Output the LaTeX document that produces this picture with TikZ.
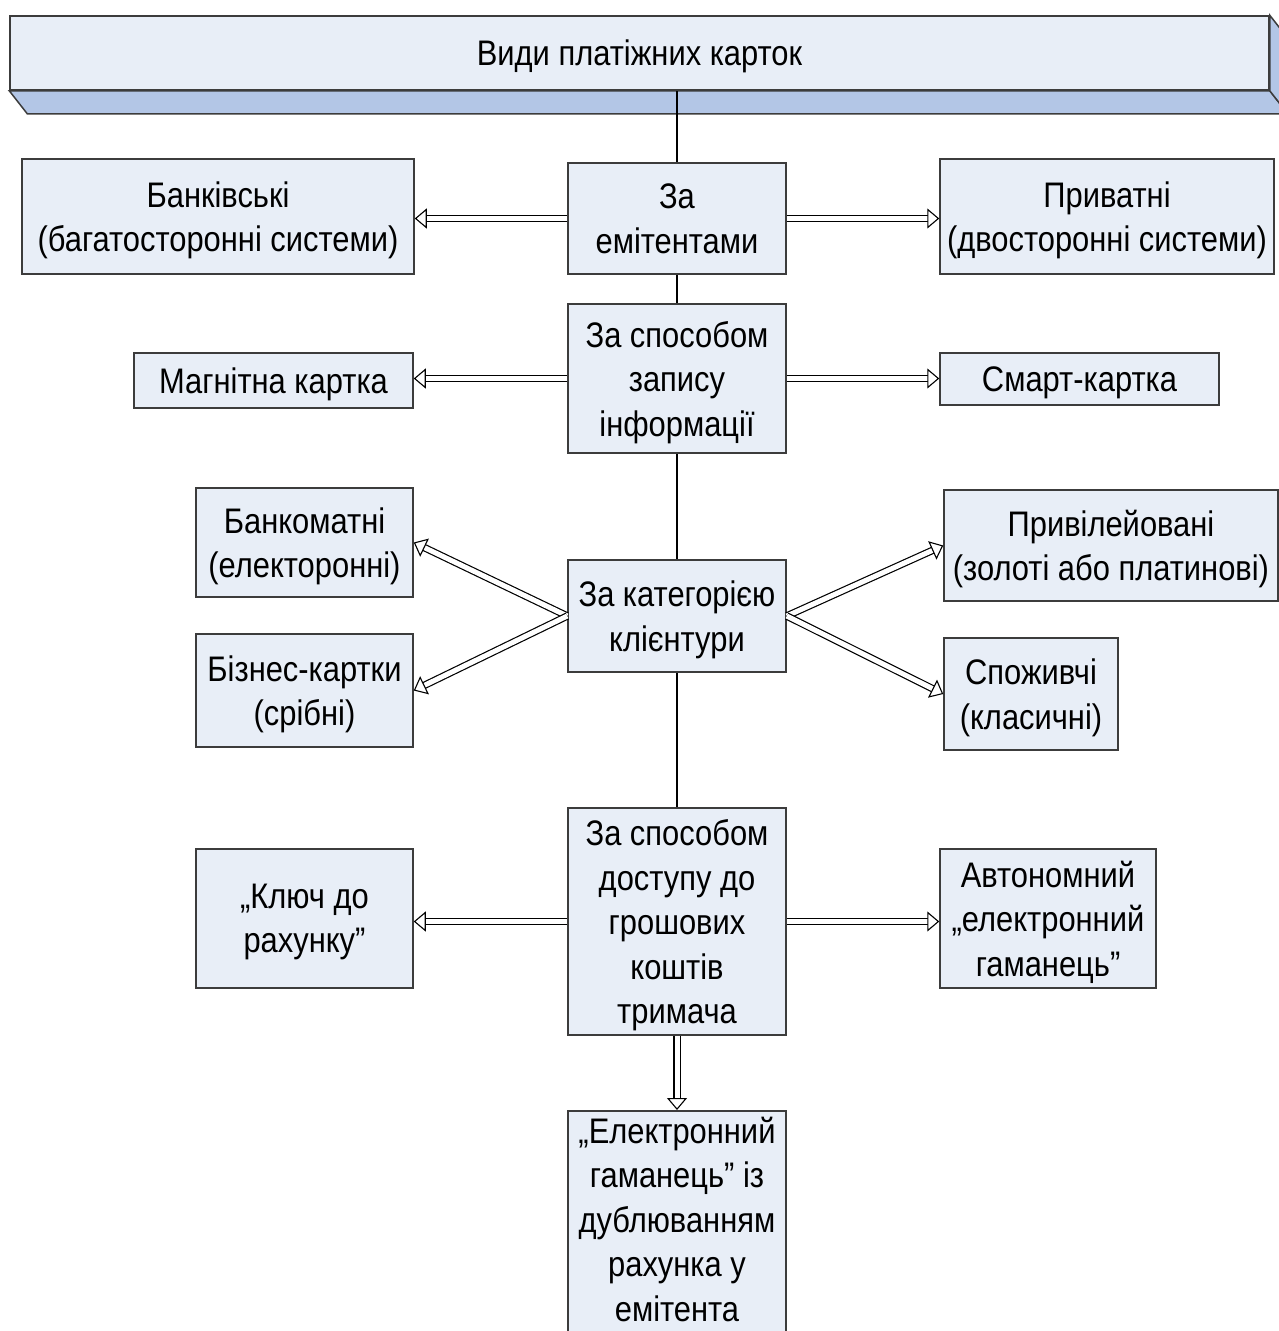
\documentclass[tikz,border=0pt]{standalone}
\usepackage{fontspec}
\setmainfont{Liberation Sans}[FakeStretch=0.87]
\usetikzlibrary{arrows.meta,backgrounds}
\definecolor{boxfill}{HTML}{E8EEF7}
\definecolor{bevelfill}{HTML}{B3C6E6}
\definecolor{edge}{HTML}{3C3C3C}
\tikzset{
  txt/.style={inner sep=0pt, align=center, font=\fontsize{35.5pt}{44.5pt}\selectfont, text depth=0pt},
  cbox/.style={txt, draw=edge, line width=1.5pt, fill=boxfill},
  dbl/.style={draw=black, line width=1.2pt, double=white, double distance=5pt,
    -{Triangle[open, fill=white, length=12pt, width=20pt, line width=1.1pt]}},
  plain/.style={draw=black, line width=1.4pt},
}
\begin{document}
\begin{tikzpicture}[x=1pt,y=-1pt]
\useasboundingbox (0,0) rectangle (1279,1331);
\clip (0,0) rectangle (1279,1331);
% top 3D box
\node[cbox, minimum width=1259pt, minimum height=74pt] (top) at (639.5,53) {Види платіжних карток};
% row 1
\node[cbox, minimum width=218pt, minimum height=111pt] (c1) at (677,218.5) {За\\емітентами};
\node[cbox, minimum width=392pt, minimum height=115pt] (b1) at (218,216.5) {Банківські\\(багатосторонні системи)};
\node[cbox, minimum width=334pt, minimum height=115pt] (p1) at (1107,216.5) {Приватні\\(двосторонні системи)};
% row 2
\node[cbox, minimum width=218pt, minimum height=149pt] (c2) at (677,378.5) {За способом\\запису\\інформації};
\node[cbox, minimum width=279pt, minimum height=55pt] (m) at (273.5,380.5) {Магнітна картка};
\node[cbox, minimum width=279pt, minimum height=52pt] (s) at (1079.5,379) {Смарт-картка};
% row 3
\node[cbox, minimum width=218pt, minimum height=112pt] (c3) at (677,616) {За категорією\\клієнтури};
\node[cbox, minimum width=217pt, minimum height=109pt] (bk) at (304.5,542.5) {Банкоматні\\(електоронні)};
\node[cbox, minimum width=217pt, minimum height=113pt] (bz) at (304.5,690.5) {Бізнес-картки\\(срібні)};
\node[cbox, minimum width=334pt, minimum height=111pt] (pr) at (1111,545.5) {Привілейовані\\(золоті або платинові)};
\node[cbox, minimum width=174pt, minimum height=112pt] (sp) at (1031,694) {Споживчі\\(класичні)};
% row 4
\node[cbox, minimum width=218pt, minimum height=227pt] (c4) at (677,921.5) {За способом\\доступу до\\грошових\\коштів\\тримача};
\node[cbox, minimum width=217pt, minimum height=139pt] (k) at (304.5,918.5) {„Ключ до\\рахунку”};
\node[cbox, minimum width=216pt, minimum height=139pt] (a) at (1048,918.5) {Автономний\\„електронний\\гаманець”};
% bottom (box runs past the lower edge)
\node[cbox, minimum width=218pt, minimum height=240pt, anchor=north] (e) at (677,1110) {};
\node[txt] (etext) at (677,1219) {„Електронний\\гаманець” із\\дублюванням\\рахунка у\\емітента};
% background: bevel and trunk line
\begin{scope}[on background layer]
  \path[draw=edge, line width=1.5pt, fill=bevelfill]
    (top.south west) -- (top.south east) -- ([shift={(18,23)}]top.south east) -- ([shift={(18,23)}]top.south west) -- cycle;
  \path[draw=edge, line width=1.5pt, fill=bevelfill]
    (top.north east) -- ([shift={(18,23)}]top.north east) -- ([shift={(18,23)}]top.south east) -- (top.south east) -- cycle;
  \draw[plain] (top.south -| c1.north) -- (c4.north);
\end{scope}
% arrows
\draw[dbl] (c1.west) -- (c1.west -| b1.east);
\draw[dbl] (c1.east) -- (c1.east -| p1.west);
\draw[dbl] (c2.west) -- (c2.west -| m.east);
\draw[dbl] (c2.east) -- (c2.east -| s.west);
\draw[dbl] (c3.west) -- (bk.east);
\draw[dbl] (c3.west) -- (bz.east);
\draw[dbl] (c3.east) -- (pr.west);
\draw[dbl] (c3.east) -- (sp.west);
\draw[dbl] (c4.west) -- (c4.west -| k.east);
\draw[dbl] (c4.east) -- (c4.east -| a.west);
\draw[dbl] (c4.south) -- (e.north);
\end{tikzpicture}
\end{document}
